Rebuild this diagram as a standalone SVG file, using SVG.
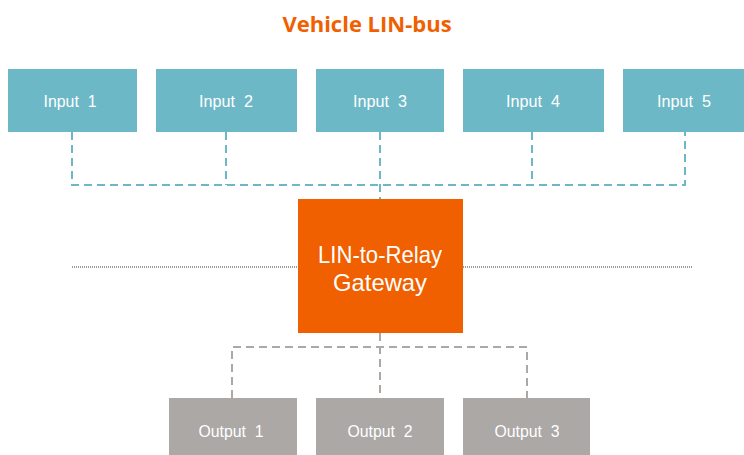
<svg xmlns="http://www.w3.org/2000/svg" width="744" height="455" viewBox="0 0 744 455">
  <style>
    .in { fill: #6cb8c6; }
    .out { fill: #aba8a6; }
    .gw { fill: #f06000; }
    .lbl { font-family: "Liberation Sans", Arial, sans-serif; fill: #ffffff; text-anchor: middle; white-space: pre; }
    .small { font-size: 17px; }
    .big { font-size: 24px; }
    .title { font-family: "Open Sans", "Liberation Sans", sans-serif; font-weight: bold; font-size: 22px; fill: #f06000; text-anchor: middle; }
    .teal { stroke: #6cb8c6; stroke-width: 2; stroke-dasharray: 8 5; fill: none; }
    .grey { stroke: #aba8a6; stroke-width: 2; stroke-dasharray: 8 5; fill: none; }
    .dots { stroke: #9a9a9a; stroke-width: 2; stroke-dasharray: 1 1; fill: none; }
  </style>
  <rect width="744" height="455" fill="#ffffff"/>

  <text class="title" x="367" y="32">Vehicle LIN-bus</text>

  <g id="connectors">
    <!-- input bus -->
    <path class="teal" d="M72 132 V185 H685 V132"/>
    <path class="teal" d="M226 132 V185"/>
    <path class="teal" d="M380 132 V199"/>
    <path class="teal" d="M532 132 V185"/>
    <!-- output bus -->
    <path class="grey" d="M380 333 V398"/>
    <path class="grey" d="M232 398 V347 H527 V398"/>
    <!-- vehicle boundary -->
    <path class="dots" d="M72 267 H298"/>
    <path class="dots" d="M463 267 H693"/>
  </g>

  <g id="input1"><rect class="in" x="8" y="69" width="129" height="63"/><text class="lbl small" x="70" y="107" textLength="53" lengthAdjust="spacingAndGlyphs">Input  1</text></g>
  <g id="input2"><rect class="in" x="156" y="69" width="141" height="63"/><text class="lbl small" x="226" y="107" textLength="54" lengthAdjust="spacingAndGlyphs">Input  2</text></g>
  <g id="input3"><rect class="in" x="316" y="69" width="128" height="63"/><text class="lbl small" x="380" y="107" textLength="54" lengthAdjust="spacingAndGlyphs">Input  3</text></g>
  <g id="input4"><rect class="in" x="463" y="69" width="141" height="63"/><text class="lbl small" x="533" y="107" textLength="54" lengthAdjust="spacingAndGlyphs">Input  4</text></g>
  <g id="input5"><rect class="in" x="623" y="69" width="121" height="63"/><text class="lbl small" x="684" y="107" textLength="54" lengthAdjust="spacingAndGlyphs">Input  5</text></g>

  <g id="gateway">
    <rect class="gw" x="298" y="199" width="165" height="134"/>
    <text class="lbl big" x="380" y="263" textLength="124" lengthAdjust="spacingAndGlyphs">LIN-to-Relay</text>
    <text class="lbl big" x="380" y="291" textLength="94" lengthAdjust="spacingAndGlyphs">Gateway</text>
  </g>

  <g id="output1"><rect class="out" x="169" y="398" width="128" height="57"/><text class="lbl small" x="231" y="437" textLength="65" lengthAdjust="spacingAndGlyphs">Output  1</text></g>
  <g id="output2"><rect class="out" x="316" y="398" width="128" height="57"/><text class="lbl small" x="380" y="437" textLength="65" lengthAdjust="spacingAndGlyphs">Output  2</text></g>
  <g id="output3"><rect class="out" x="463" y="398" width="127" height="57"/><text class="lbl small" x="527" y="437" textLength="65" lengthAdjust="spacingAndGlyphs">Output  3</text></g>
</svg>
